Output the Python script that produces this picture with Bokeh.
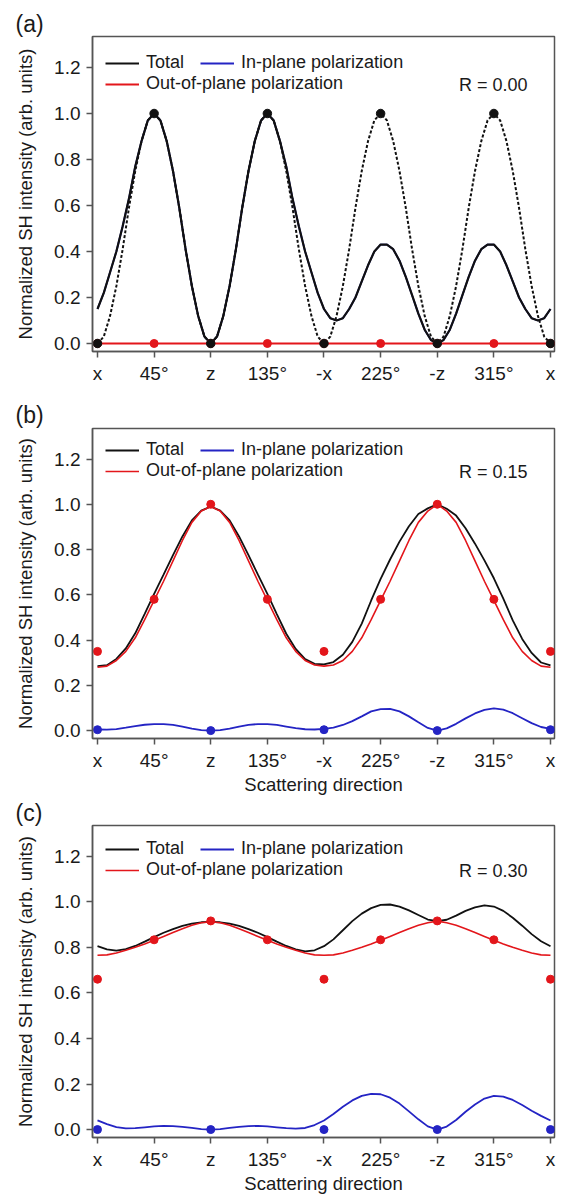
from bokeh.plotting import figure
from bokeh.models import FixedTicker, Legend, LegendItem, Label, Range1d, PrintfTickFormatter
from bokeh.layouts import column
from bokeh.embed import file_html
from bokeh.resources import INLINE

FONT = "Liberation Sans"
FRAME = "#555555"
RED = "#e3161b"
BLUE = "#2424c4"
BLACK = "#111111"
TXT = "#1a1a1a"

# ---------------- data ----------------
ang5 = list(range(0, 361, 5))                 # 0..360 step 5 deg (panel a curves)
ang75 = [i * 7.5 for i in range(49)]          # 0..360 step 7.5 deg (panels b, c curves)
dot_ang = [0, 45, 90, 135, 180, 225, 270, 315, 360]
axis_dot_ang = [0, 90, 180, 270, 360]
tick_vals = [0, 45, 90, 135, 180, 225, 270, 315, 360]
tick_labels = ["x", "45°", "z", "135°", "-x", "225°", "-z", "315°", "x"]
y_ticks = [0.0, 0.2, 0.4, 0.6, 0.8, 1.0, 1.2]

# panel (a), R = 0.00
total_a = [0.15, 0.22, 0.31, 0.40, 0.51, 0.63, 0.77, 0.88, 0.97, 1.00, 0.97, 0.88, 0.75, 0.59, 0.41, 0.25, 0.12, 0.03,
           0.00, 0.03, 0.12, 0.25, 0.41, 0.59, 0.75, 0.88, 0.97, 1.00, 0.97, 0.88, 0.77, 0.63, 0.51, 0.40, 0.31, 0.22,
           0.15, 0.11, 0.10, 0.11, 0.15, 0.20, 0.27, 0.34, 0.40, 0.43, 0.43, 0.41, 0.36, 0.29, 0.21, 0.13, 0.06, 0.015,
           0.00, 0.015, 0.06, 0.13, 0.21, 0.29, 0.36, 0.41, 0.43, 0.43, 0.40, 0.34, 0.27, 0.20, 0.15, 0.11, 0.10, 0.11,
           0.15]
in_plane_a = total_a  # out-of-plane part is zero, in-plane equals total (hidden under it)
dashed_a = [0.00, 0.03, 0.12, 0.25, 0.41, 0.59, 0.75, 0.88, 0.97, 1.00, 0.97, 0.88, 0.75, 0.59, 0.41, 0.25, 0.12, 0.03,
            0.00, 0.03, 0.12, 0.25, 0.41, 0.59, 0.75, 0.88, 0.97, 1.00, 0.97, 0.88, 0.75, 0.59, 0.41, 0.25, 0.12, 0.03,
            0.00, 0.03, 0.12, 0.25, 0.41, 0.59, 0.75, 0.88, 0.97, 1.00, 0.97, 0.88, 0.75, 0.59, 0.41, 0.25, 0.12, 0.03,
            0.00, 0.03, 0.12, 0.25, 0.41, 0.59, 0.75, 0.88, 0.97, 1.00, 0.97, 0.88, 0.75, 0.59, 0.41, 0.25, 0.12, 0.03,
            0.00]
out_a = [0.0, 0.0, 0.0, 0.0, 0.0, 0.0, 0.0, 0.0, 0.0]
black_dots_a = [0.0, 1.0, 0.0, 1.0, 0.0, 1.0, 0.0, 1.0, 0.0]
red_dots_a = [0.0, 0.0, 0.0, 0.0, 0.0, 0.0, 0.0, 0.0, 0.0]

# panel (b), R = 0.15
out_b = [0.28, 0.285, 0.31, 0.35, 0.41, 0.49, 0.575, 0.66, 0.75, 0.84, 0.92, 0.97, 0.99,
         0.97, 0.92, 0.84, 0.75, 0.66, 0.575, 0.49, 0.41, 0.35, 0.31, 0.29, 0.285,
         0.29, 0.31, 0.35, 0.41, 0.49, 0.575, 0.66, 0.75, 0.84, 0.92, 0.97, 1.0,
         0.97, 0.92, 0.84, 0.75, 0.66, 0.575, 0.49, 0.41, 0.35, 0.31, 0.285, 0.28]
in_b = [0.005, 0.004, 0.007, 0.013, 0.02, 0.026, 0.029, 0.029, 0.025, 0.018, 0.009, 0.002, 0.0,
        0.002, 0.009, 0.018, 0.025, 0.029, 0.029, 0.025, 0.018, 0.011, 0.006, 0.005, 0.008,
        0.013, 0.025, 0.042, 0.063, 0.085, 0.095, 0.096, 0.085, 0.063, 0.037, 0.012, 0.0,
        0.01, 0.03, 0.054, 0.076, 0.092, 0.098, 0.093, 0.077, 0.055, 0.033, 0.016, 0.008]
total_b = [0.285, 0.289, 0.317, 0.363, 0.43, 0.516, 0.604, 0.689, 0.775, 0.858, 0.929, 0.972, 0.99,
           0.972, 0.929, 0.858, 0.775, 0.689, 0.604, 0.515, 0.428, 0.361, 0.316, 0.295, 0.293,
           0.303, 0.335, 0.392, 0.473, 0.575, 0.67, 0.756, 0.835, 0.903, 0.957, 0.982, 1.0,
           0.98, 0.95, 0.894, 0.826, 0.752, 0.673, 0.583, 0.487, 0.405, 0.343, 0.301, 0.288]
red_dots_b = [0.35, 0.58, 1.0, 0.58, 0.35, 0.58, 1.0, 0.58, 0.35]
blue_dots_b = [0.004, 0.0, 0.004, 0.0, 0.004]

# panel (c), R = 0.30
out_c = [0.765, 0.767, 0.775, 0.787, 0.80, 0.815, 0.831, 0.848, 0.865, 0.882, 0.897, 0.908, 0.912,
         0.908, 0.897, 0.882, 0.865, 0.848, 0.831, 0.815, 0.80, 0.787, 0.775, 0.767, 0.765,
         0.767, 0.775, 0.787, 0.80, 0.815, 0.831, 0.848, 0.865, 0.882, 0.897, 0.908, 0.915,
         0.908, 0.897, 0.882, 0.865, 0.848, 0.831, 0.815, 0.80, 0.787, 0.775, 0.767, 0.765]
in_c = [0.04, 0.024, 0.011, 0.005, 0.006, 0.01, 0.014, 0.016, 0.015, 0.012, 0.007, 0.002, 0.0,
        0.002, 0.007, 0.012, 0.015, 0.016, 0.014, 0.01, 0.006, 0.004, 0.007, 0.02, 0.04,
        0.068, 0.1, 0.128, 0.148, 0.157, 0.155, 0.14, 0.114, 0.08, 0.045, 0.014, 0.0,
        0.013, 0.042, 0.078, 0.11, 0.136, 0.148, 0.145, 0.13, 0.108, 0.083, 0.06, 0.04]
total_c = [0.805, 0.791, 0.786, 0.792, 0.806, 0.825, 0.845, 0.864, 0.88, 0.894, 0.904, 0.91, 0.912,
           0.91, 0.904, 0.894, 0.88, 0.864, 0.845, 0.825, 0.806, 0.791, 0.782, 0.787, 0.805,
           0.835, 0.875, 0.915, 0.948, 0.972, 0.986, 0.988, 0.979, 0.962, 0.942, 0.922, 0.915,
           0.921, 0.939, 0.96, 0.975, 0.984, 0.979, 0.96, 0.93, 0.895, 0.858, 0.827, 0.805]
red_dots_c = [0.66, 0.833, 0.916, 0.833, 0.66, 0.833, 0.916, 0.833, 0.66]
blue_dots_c = [0.0, 0.0, 0.0, 0.0, 0.0]


# ---------------- helpers ----------------
def make_fig(tag, tag_standoff, height, btop, bbottom, xlabel):
    p = figure(width=558, height=height, title=tag,
               x_range=Range1d(-3.97, 363.18), y_range=Range1d(-0.0348, 1.3348),
               output_backend="svg", toolbar_location=None,
               min_border_left=92, min_border_right=4,
               min_border_top=btop, min_border_bottom=bbottom)
    p.title.align = "left"
    p.title.offset = -77
    p.title.standoff = tag_standoff
    p.title.text_font = FONT
    p.title.text_font_size = "23px"
    p.title.text_font_style = "normal"
    p.title.text_color = TXT
    p.outline_line_color = FRAME
    p.outline_line_width = 1.5
    p.outline_line_alpha = 1.0
    p.grid.visible = False
    for ax in (p.xaxis[0], p.yaxis[0]):
        ax.axis_line_color = FRAME
        ax.axis_line_width = 1.5
        ax.major_tick_line_color = FRAME
        ax.major_tick_line_width = 1.5
        ax.major_tick_in = 0
        ax.major_tick_out = 6
        ax.minor_tick_line_color = None
        ax.major_label_text_font = FONT
        ax.major_label_text_font_size = "19px"
        ax.major_label_text_color = TXT
        ax.axis_label_text_font = FONT
        ax.axis_label_text_font_style = "normal"
        ax.axis_label_text_color = TXT
    p.xaxis.ticker = FixedTicker(ticks=tick_vals)
    p.xaxis.major_label_overrides = {v: t for v, t in zip(tick_vals, tick_labels)}
    p.xaxis.major_label_standoff = 5
    if xlabel:
        p.xaxis.axis_label = xlabel
        p.xaxis.axis_label_text_font_size = "18.5px"
        p.xaxis.axis_label_standoff = 0
    p.yaxis.ticker = FixedTicker(ticks=y_ticks)
    p.yaxis.formatter = PrintfTickFormatter(format="%.1f")
    p.yaxis.major_label_standoff = 6
    p.yaxis.axis_label = "Normalized SH intensity (arb. units)"
    p.yaxis.axis_label_text_font_size = "18.5px"
    p.yaxis.axis_label_standoff = 15
    return p


def decorate(p, rtext, r_total, r_in, r_out):
    leg1 = Legend(items=[LegendItem(label="Total", renderers=[r_total]),
                         LegendItem(label="In-plane polarization", renderers=[r_in])],
                  orientation="horizontal", location=(13, 278))
    leg2 = Legend(items=[LegendItem(label="Out-of-plane polarization", renderers=[r_out])],
                  orientation="horizontal", location=(13, 257))
    for lg in (leg1, leg2):
        lg.glyph_width = 34
        lg.glyph_height = 20
        lg.label_height = 20
        lg.label_standoff = 7
        lg.spacing = 16
        lg.padding = 0
        lg.margin = 0
        lg.border_line_alpha = 0
        lg.background_fill_alpha = 0
        lg.label_text_font = FONT
        lg.label_text_font_size = "18px"
        lg.label_text_color = TXT
        p.add_layout(lg)
    p.add_layout(Label(x=435, y=267, x_units="screen", y_units="screen", text=rtext,
                       text_align="right", text_baseline="middle", text_font=FONT,
                       text_font_size="18px", text_color=TXT))


# ---------------- panel (a) ----------------
pa = make_fig("(a)", 0, 391, 36, 40, None)
r_in_a = pa.line(ang5, in_plane_a, line_color=BLUE, line_width=1.8)
pa.line(ang5, dashed_a, line_color=BLACK, line_width=2, line_dash="3 2")
r_tot_a = pa.line(ang5, total_a, line_color=BLACK, line_width=2.2)
r_out_a = pa.line(dot_ang, out_a, line_color=RED, line_width=1.8)
pa.scatter(dot_ang, red_dots_a, size=8, color=RED)
pa.scatter(dot_ang, black_dots_a, size=8.5, color=BLACK)
decorate(pa, "R = 0.00", r_tot_a, r_in_a, r_out_a)

# ---------------- panel (b) ----------------
pb = make_fig("(b)", 2, 406, 37, 54, "Scattering direction")
r_in_b = pb.line(ang75, in_b, line_color=BLUE, line_width=1.8)
r_tot_b = pb.line(ang75, total_b, line_color=BLACK, line_width=1.8)
r_out_b = pb.line(ang75, out_b, line_color=RED, line_width=1.6)
pb.scatter(dot_ang, red_dots_b, size=8, color=RED)
pb.scatter(axis_dot_ang, blue_dots_b, size=8, color=BLUE)
decorate(pb, "R = 0.15", r_tot_b, r_in_b, r_out_b)

# ---------------- panel (c) ----------------
pc = make_fig("(c)", 0, 399, 27, 57, "Scattering direction")
r_in_c = pc.line(ang75, in_c, line_color=BLUE, line_width=1.8)
r_tot_c = pc.line(ang75, total_c, line_color=BLACK, line_width=1.8)
r_out_c = pc.line(ang75, out_c, line_color=RED, line_width=1.6)
pc.scatter(dot_ang, red_dots_c, size=8, color=RED)
pc.scatter(axis_dot_ang, blue_dots_c, size=8, color=BLUE)
decorate(pc, "R = 0.30", r_tot_c, r_in_c, r_out_c)

layout = column(pa, pb, pc, spacing=0)
open("out.html", "w").write(file_html(layout, INLINE))
